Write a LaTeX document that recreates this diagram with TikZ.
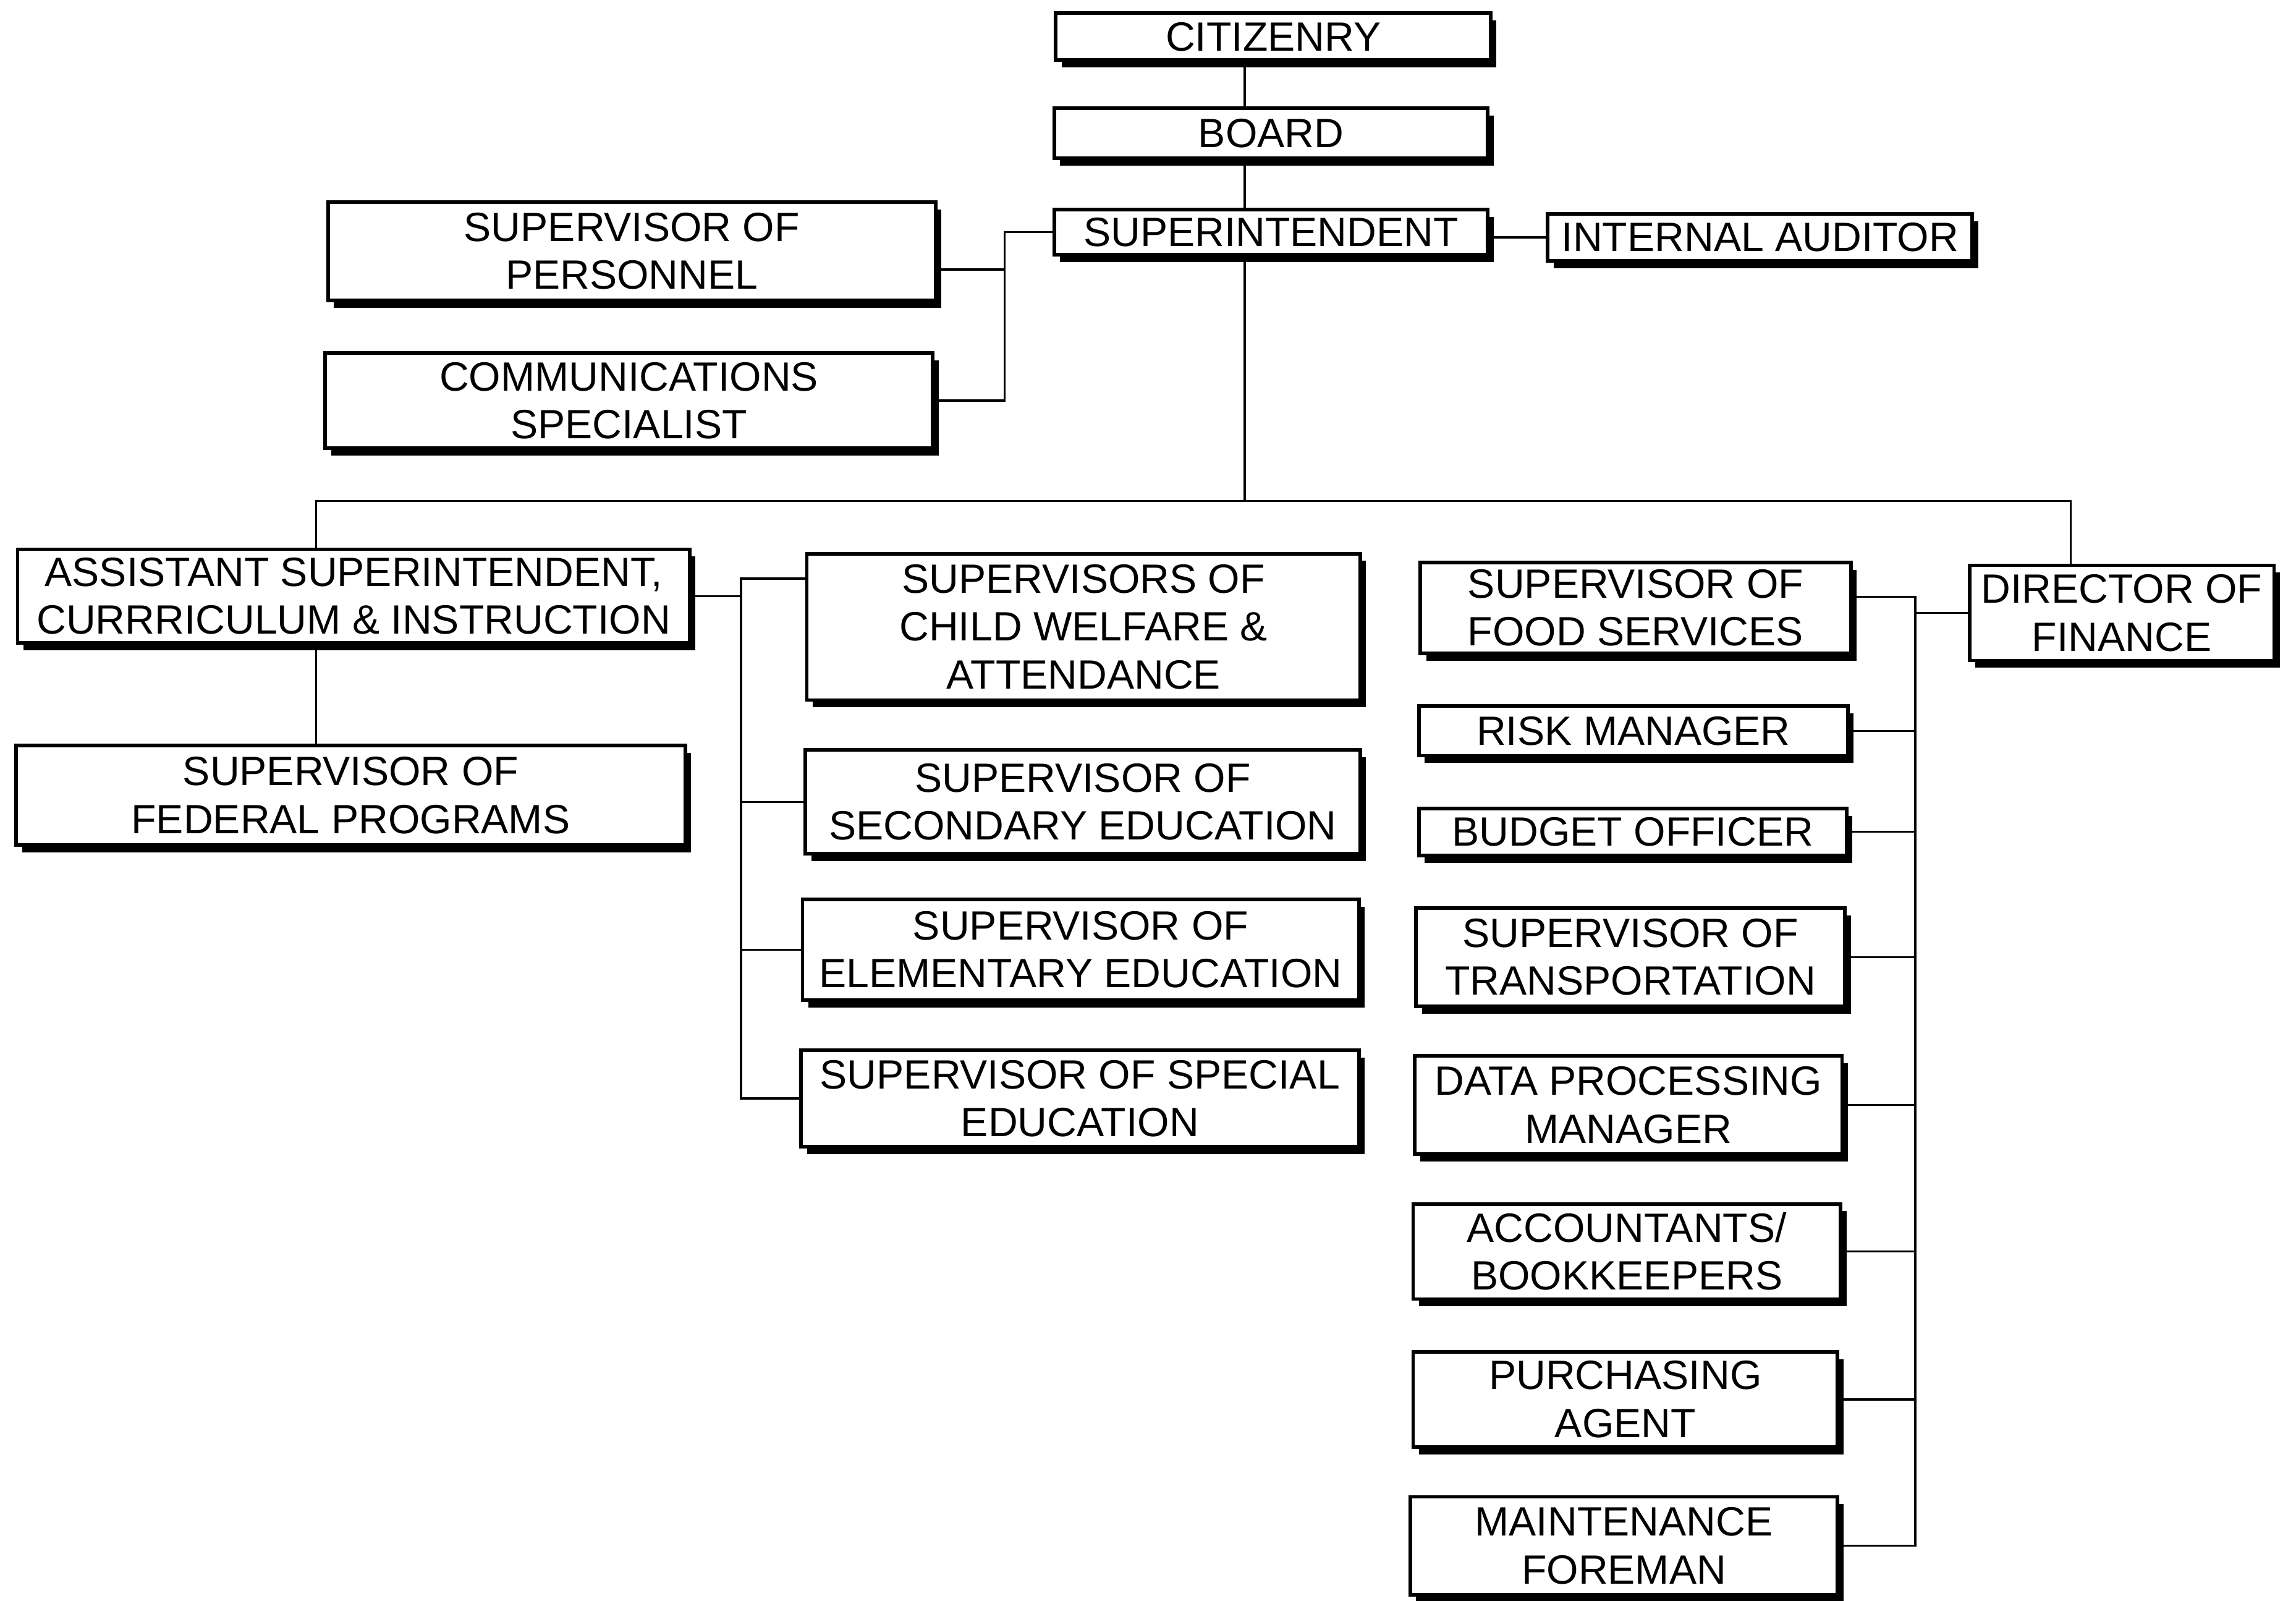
\documentclass[tikz,border=0pt]{standalone}
\usepackage{fontspec}
\setmainfont{Liberation Sans}
\usetikzlibrary{shadows}
\newcommand\orgfont{\fontsize{15.9}{18.6}\selectfont}

\begin{document}
\begin{tikzpicture}[% one unit = one pixel of the scan
         x = 0.02cm, y = -0.02cm,
office/.style args = {#1/#2}{draw, fill=white, line width=1.4pt,
              minimum width=#1, minimum height=#2,
              inner sep=0pt, outer sep=0pt,
              align=center, font=\orgfont,
              drop shadow={shadow xshift=0.08cm, shadow yshift=-0.1cm,
                           fill=black, opacity=1}},
  link/.style = {draw, line width=0.8pt}
                    ]
	\useasboundingbox (0,0) rectangle (1568,1093);

	% spines of the chart
	\coordinate (trunk) at (850,0);
	\coordinate (staff) at (686,0);
	\coordinate (busL)  at (216,342);
	\coordinate (busR)  at (1414,342);
	\coordinate (curr)  at (506,0);
	\coordinate (fsp)   at (1308,0);

	% top
	\node[office=5.94cm/0.64cm] (cit)   at (869.5,25)   {CITIZENRY};
	\node[office=5.92cm/0.68cm] (board) at (868,91)     {BOARD};
	\node[office=5.92cm/0.62cm] (supt)  at (868,158.5)  {SUPERINTENDENT};
	\node[office=5.8cm/0.64cm]  (audit) at (1202,162)   {INTERNAL AUDITOR};
	\node[office=8.3cm/1.34cm]  (pers)  at (431.5,171.5) {SUPERVISOR OF\\PERSONNEL};
	\node[office=8.3cm/1.3cm]   (comm)  at (429.5,273.5) {COMMUNICATIONS\\SPECIALIST};

	% curriculum side
	\node[office=9.18cm/1.28cm] (asst) at (241.5,407) {ASSISTANT SUPERINTENDENT,\\CURRRICULUM \& INSTRUCTION};
	\node[office=9.14cm/1.36cm] (fed)  at (239.5,543) {SUPERVISOR OF\\FEDERAL PROGRAMS};
	\node[office=7.56cm/2cm]    (welf) at (740,428)   {SUPERVISORS OF\\CHILD WELFARE \&\\ATTENDANCE};
	\node[office=7.58cm/1.42cm] (sec)  at (739.5,547.5) {SUPERVISOR OF\\SECONDARY EDUCATION};
	\node[office=7.6cm/1.38cm]  (elem) at (738,648.5) {SUPERVISOR OF\\ELEMENTARY EDUCATION};
	\node[office=7.62cm/1.32cm] (spec) at (737.5,750) {SUPERVISOR OF SPECIAL\\EDUCATION};

	% finance side
	\node[office=4.16cm/1.3cm]  (fin)    at (1449,418.5)  {DIRECTOR OF\\FINANCE};
	\node[office=5.88cm/1.24cm] (food)   at (1117,415)    {SUPERVISOR OF\\FOOD SERVICES};
	\node[office=5.86cm/0.68cm] (risk)   at (1115.5,499)  {RISK MANAGER};
	\node[office=5.84cm/0.64cm] (budget) at (1115,568)    {BUDGET OFFICER};
	\node[office=5.86cm/1.34cm] (trans)  at (1113.5,653.5) {SUPERVISOR OF\\TRANSPORTATION};
	\node[office=5.84cm/1.34cm] (data)   at (1112,754.5)  {DATA PROCESSING\\MANAGER};
	\node[office=5.84cm/1.3cm]  (acct)   at (1111,854.5)  {ACCOUNTANTS/\\BOOKKEEPERS};
	\node[office=5.8cm/1.3cm]   (purch)  at (1110,955.5)  {PURCHASING\\AGENT};
	\node[office=5.84cm/1.34cm] (maint)  at (1109,1055.5) {MAINTENANCE\\FOREMAN};

	% links
	\draw[link] (cit.south -| trunk) -- (board.north -| trunk);
	\draw[link] (board.south -| trunk) -- (supt.north -| trunk);
	\draw[link] (supt.south -| trunk) -- (trunk |- busL);
	\draw[link] (audit.west -| supt.east) -- (audit.west);
	\draw[link] (supt.west) -- (supt.west -| staff) |- (comm.east);
	\draw[link] ([yshift=-0.25cm]pers.east) -- ([yshift=-0.25cm]pers.east -| staff);
	\draw[link] (asst.north -| busL) -- (busL) -- (busR) -- (fin.north -| busR);
	\draw[link] (asst.south -| busL) -- (fed.north -| busL);

	\draw[link] (asst.east) -- (asst.east -| curr);
	\draw[link] ([yshift=0.66cm]welf.west) -| (curr |- spec.west) -- (spec.west);
	\foreach \n in {sec, elem}
		\draw[link] (\n.west) -- (\n.west -| curr);

	\draw[link] (fin.west) -- (fin.west -| fsp);
	\draw[link] ([yshift=0.15cm]food.east) -| (fsp |- maint.east) -- (maint.east);
	\foreach \n in {risk, budget, trans, data, acct, purch}
		\draw[link] (\n.east) -- (\n.east -| fsp);
\end{tikzpicture}
\end{document}
